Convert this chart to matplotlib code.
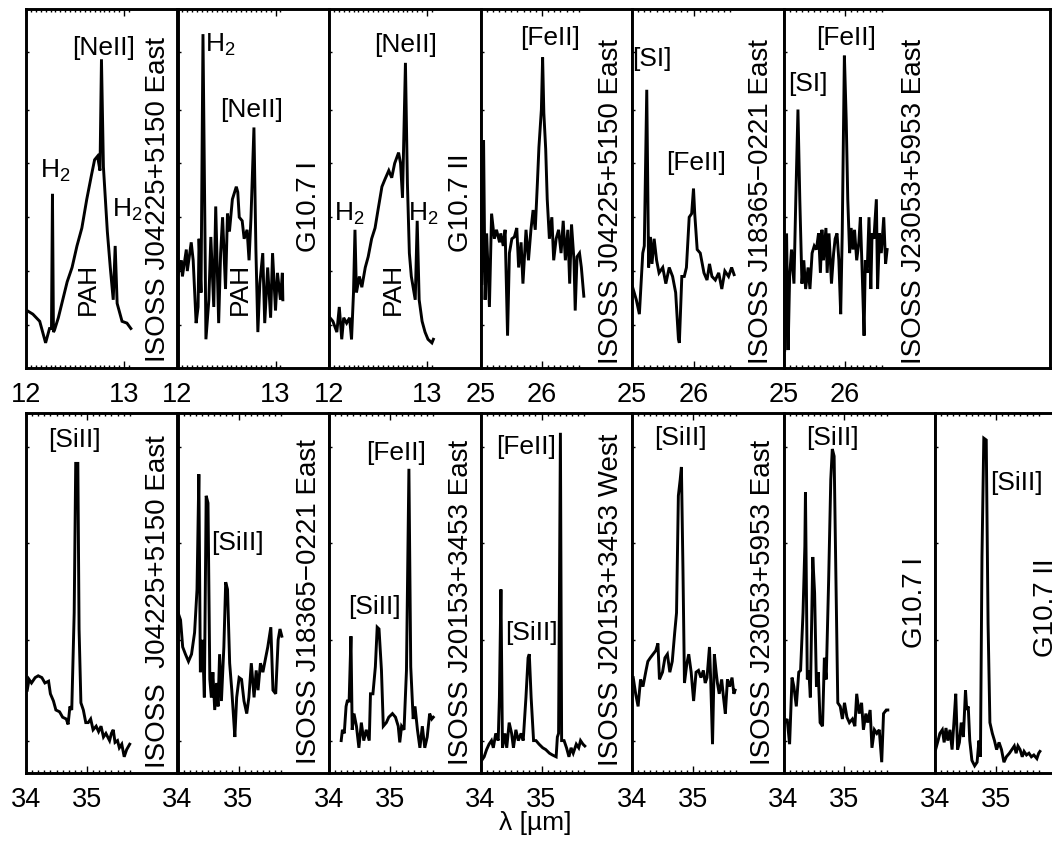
import matplotlib
matplotlib.use('Agg')
import matplotlib.pyplot as plt
import numpy as np

plt.rcParams['font.family'] = ['Liberation Sans', 'DejaVu Sans']
plt.rcParams['mathtext.default'] = 'regular'

# ---------------- data (relative flux) ----------------
t1_wave = [12.01, 12.07, 12.14, 12.20, 12.24, 12.26, 12.27, 12.28, 12.29, 12.33, 12.42, 12.47, 12.52,
           12.57, 12.62, 12.67, 12.70, 12.73, 12.755, 12.77, 12.79, 12.83, 12.86, 12.89, 12.91, 12.93,
           12.98, 13.03, 13.07]
t1_flux = [0.16, 0.15, 0.13, 0.07, 0.11, 0.11, 0.485, 0.10, 0.105, 0.14, 0.24, 0.28, 0.34,
           0.39, 0.47, 0.54, 0.58, 0.59, 0.55, 0.86, 0.56, 0.38, 0.28, 0.19, 0.34, 0.18,
           0.13, 0.125, 0.11]

t2_wave = [12.00, 12.04, 12.05, 12.09, 12.10, 12.14, 12.16, 12.19, 12.21, 12.22, 12.24, 12.26, 12.28,
           12.29, 12.32, 12.34, 12.37, 12.39, 12.42, 12.44, 12.46, 12.49, 12.51, 12.53, 12.56, 12.60,
           12.615, 12.63, 12.66, 12.68, 12.71, 12.73, 12.75, 12.78, 12.80, 12.82, 12.84, 12.87, 12.89,
           12.92, 12.95, 12.97, 13.00, 13.02, 13.05, 13.07, 13.075]
t2_flux = [0.255, 0.30, 0.255, 0.33, 0.27, 0.35, 0.30, 0.125, 0.17, 0.36, 0.21, 0.93, 0.38,
           0.08, 0.19, 0.365, 0.17, 0.45, 0.125, 0.32, 0.42, 0.22, 0.43, 0.38, 0.47, 0.505,
           0.49, 0.42, 0.41, 0.36, 0.385, 0.30, 0.42, 0.67, 0.33, 0.10, 0.235, 0.32, 0.125,
           0.28, 0.14, 0.32, 0.16, 0.265, 0.19, 0.265, 0.19]

t3_wave = [12.01, 12.04, 12.08, 12.105, 12.13, 12.15, 12.18, 12.21, 12.23, 12.25, 12.265, 12.28, 12.31,
           12.335, 12.37, 12.40, 12.435, 12.47, 12.50, 12.54, 12.57, 12.61, 12.64, 12.67, 12.71, 12.73,
           12.75, 12.78, 12.80, 12.82, 12.84, 12.88, 12.90, 12.92, 12.95, 12.98, 13.01, 13.05, 13.065]
t3_flux = [0.14, 0.13, 0.10, 0.17, 0.08, 0.14, 0.125, 0.14, 0.08, 0.21, 0.385, 0.21, 0.255,
           0.225, 0.28, 0.31, 0.36, 0.39, 0.44, 0.505, 0.525, 0.55, 0.53, 0.57, 0.60, 0.57,
           0.475, 0.85, 0.515, 0.32, 0.255, 0.19, 0.41, 0.19, 0.13, 0.10, 0.08, 0.07, 0.08]

t4_wave = [25.02, 25.05, 25.075, 25.10, 25.145, 25.18, 25.225, 25.26, 25.31, 25.33, 25.37, 25.40, 25.44,
           25.47, 25.51, 25.55, 25.59, 25.62, 25.66, 25.69, 25.74, 25.78, 25.82, 25.855, 25.89, 25.925,
           25.95, 25.99, 26.01, 26.03, 26.06, 26.085, 26.12, 26.16, 26.19, 26.23, 26.27, 26.31, 26.345,
           26.38, 26.42, 26.45, 26.48, 26.52, 26.54, 26.57, 26.61, 26.64, 26.68]
t4_flux = [0.235, 0.635, 0.19, 0.375, 0.17, 0.43, 0.36, 0.385, 0.35, 0.375, 0.34, 0.385, 0.09,
           0.32, 0.36, 0.365, 0.39, 0.28, 0.35, 0.235, 0.385, 0.30, 0.385, 0.44, 0.385, 0.515,
           0.615, 0.72, 0.865, 0.71, 0.61, 0.47, 0.36, 0.42, 0.30, 0.36, 0.385, 0.32, 0.41,
           0.30, 0.385, 0.235, 0.40, 0.30, 0.16, 0.31, 0.32, 0.28, 0.20]

t5_wave = [25.01, 25.07, 25.12, 25.175, 25.20, 25.24, 25.27, 25.30, 25.325, 25.36, 25.40, 25.44, 25.50,
           25.55, 25.605, 25.66, 25.71, 25.755, 25.77, 25.81, 25.85, 25.885, 25.93, 25.97, 26.00, 26.02,
           26.06, 26.11, 26.17, 26.22, 26.26, 26.30, 26.355, 26.41, 26.46, 26.51, 26.57, 26.62, 26.66]
t5_flux = [0.225, 0.19, 0.15, 0.32, 0.34, 0.775, 0.28, 0.365, 0.29, 0.36, 0.30, 0.265, 0.28,
           0.235, 0.28, 0.255, 0.21, 0.08, 0.07, 0.255, 0.255, 0.28, 0.42, 0.43, 0.50, 0.43,
           0.33, 0.32, 0.265, 0.245, 0.29, 0.255, 0.245, 0.265, 0.22, 0.27, 0.255, 0.28, 0.26]

t6_wave = [25.02, 25.05, 25.075, 25.10, 25.13, 25.17, 25.20, 25.235, 25.265, 25.30, 25.33, 25.36, 25.40,
           25.43, 25.465, 25.50, 25.535, 25.57, 25.60, 25.625, 25.65, 25.69, 25.71, 25.74, 25.78, 25.815,
           25.84, 25.87, 25.90, 25.93, 25.955, 25.99, 26.02, 26.045, 26.075, 26.10, 26.13, 26.155, 26.19,
           26.225, 26.25, 26.28, 26.31, 26.33, 26.36, 26.39, 26.42, 26.44, 26.47, 26.51, 26.53, 26.56,
           26.59, 26.63, 26.66, 26.685]
t6_flux = [0.05, 0.375, 0.05, 0.255, 0.33, 0.235, 0.47, 0.72, 0.47, 0.235, 0.30, 0.22, 0.28,
           0.22, 0.32, 0.34, 0.33, 0.375, 0.265, 0.385, 0.30, 0.39, 0.265, 0.375, 0.235, 0.32,
           0.36, 0.375, 0.30, 0.15, 0.375, 0.87, 0.69, 0.47, 0.32, 0.39, 0.33, 0.385, 0.30,
           0.35, 0.42, 0.265, 0.09, 0.30, 0.265, 0.42, 0.22, 0.375, 0.36, 0.47, 0.22, 0.375,
           0.32, 0.42, 0.29, 0.33]

b1_wave = [34.02, 34.05, 34.09, 34.15, 34.20, 34.26, 34.31, 34.37, 34.40, 34.45, 34.49, 34.55, 34.60,
           34.66, 34.69, 34.72, 34.75, 34.79, 34.815, 34.85, 34.87, 34.90, 34.94, 34.98, 35.02, 35.06,
           35.10, 35.15, 35.19, 35.23, 35.27, 35.31, 35.37, 35.40, 35.43, 35.46, 35.50, 35.53, 35.57,
           35.61, 35.65, 35.70]
b1_flux = [0.23, 0.26, 0.25, 0.265, 0.27, 0.265, 0.25, 0.255, 0.22, 0.20, 0.175, 0.17, 0.155,
           0.15, 0.135, 0.185, 0.175, 0.445, 0.86, 0.86, 0.40, 0.195, 0.175, 0.14, 0.14, 0.15,
           0.12, 0.13, 0.115, 0.13, 0.10, 0.11, 0.09, 0.11, 0.12, 0.085, 0.09, 0.07, 0.08,
           0.045, 0.065, 0.08]

b2_wave = [34.01, 34.05, 34.085, 34.13, 34.18, 34.23, 34.28, 34.32, 34.35, 34.375, 34.41, 34.44, 34.47,
           34.50, 34.53, 34.555, 34.58, 34.61, 34.64, 34.665, 34.69, 34.72, 34.76, 34.79, 34.82, 34.855,
           34.89, 34.915, 34.94, 34.97, 35.01, 35.05, 35.09, 35.135, 35.17, 35.21, 35.255, 35.29, 35.32,
           35.36, 35.40, 35.445, 35.48, 35.53, 35.565, 35.61, 35.65, 35.68, 35.71]
b2_flux = [0.445, 0.425, 0.35, 0.33, 0.31, 0.33, 0.39, 0.51, 0.83, 0.28, 0.37, 0.21, 0.77,
           0.75, 0.26, 0.21, 0.28, 0.175, 0.25, 0.185, 0.33, 0.20, 0.35, 0.53, 0.51, 0.305,
           0.23, 0.165, 0.10, 0.21, 0.265, 0.26, 0.20, 0.165, 0.21, 0.305, 0.21, 0.285, 0.23,
           0.305, 0.28, 0.32, 0.35, 0.405, 0.23, 0.22, 0.37, 0.40, 0.38]

b3_wave = [34.20, 34.22, 34.25, 34.28, 34.30, 34.33, 34.36, 34.38, 34.41, 34.45, 34.49, 34.53, 34.57,
           34.61, 34.66, 34.68, 34.72, 34.76, 34.79, 34.82, 34.86, 34.89, 34.94, 34.98, 35.04, 35.09,
           35.135, 35.16, 35.19, 35.23, 35.27, 35.31, 35.34, 35.38, 35.41, 35.45, 35.49, 35.53, 35.57,
           35.61, 35.65, 35.685, 35.71]
b3_flux = [0.09, 0.12, 0.11, 0.185, 0.20, 0.20, 0.38, 0.12, 0.165, 0.13, 0.07, 0.14, 0.09,
           0.12, 0.09, 0.22, 0.22, 0.295, 0.405, 0.40, 0.285, 0.13, 0.14, 0.155, 0.165, 0.155,
           0.13, 0.085, 0.13, 0.12, 0.285, 0.845, 0.295, 0.15, 0.185, 0.12, 0.07, 0.13, 0.07,
           0.10, 0.165, 0.15, 0.155]

b4_wave = [34.02, 34.06, 34.10, 34.14, 34.18, 34.21, 34.25, 34.29, 34.31, 34.335, 34.36, 34.40, 34.43,
           34.47, 34.51, 34.54, 34.58, 34.62, 34.665, 34.70, 34.745, 34.78, 34.80, 34.83, 34.87, 34.91,
           34.96, 35.02, 35.07, 35.13, 35.18, 35.24, 35.26, 35.28, 35.31, 35.33, 35.37, 35.41, 35.45,
           35.485, 35.52, 35.57, 35.61, 35.64, 35.68, 35.71]
b4_flux = [0.035, 0.045, 0.065, 0.08, 0.09, 0.07, 0.11, 0.09, 0.21, 0.51, 0.07, 0.11, 0.07,
           0.14, 0.11, 0.07, 0.12, 0.09, 0.11, 0.09, 0.21, 0.32, 0.33, 0.21, 0.09, 0.09,
           0.08, 0.07, 0.065, 0.055, 0.05, 0.045, 0.10, 0.11, 0.945, 0.09, 0.09, 0.07, 0.045,
           0.07, 0.055, 0.08, 0.07, 0.09, 0.08, 0.075]

b5_wave = [34.02, 34.06, 34.10, 34.14, 34.18, 34.23, 34.26, 34.30, 34.345, 34.39, 34.425, 34.45, 34.50,
           34.54, 34.58, 34.62, 34.66, 34.70, 34.73, 34.76, 34.79, 34.81, 34.835, 34.86, 34.90, 34.93,
           34.97, 35.01, 35.05, 35.09, 35.13, 35.17, 35.20, 35.23, 35.27, 35.29, 35.32, 35.35, 35.38,
           35.40, 35.43, 35.47, 35.50, 35.53, 35.565, 35.60, 35.64, 35.67, 35.69]
b5_flux = [0.265, 0.22, 0.185, 0.26, 0.24, 0.285, 0.31, 0.32, 0.33, 0.34, 0.36, 0.26, 0.28,
           0.32, 0.33, 0.28, 0.31, 0.39, 0.445, 0.77, 0.815, 0.85, 0.57, 0.25, 0.305, 0.33,
           0.28, 0.20, 0.28, 0.285, 0.265, 0.285, 0.25, 0.265, 0.35, 0.26, 0.08, 0.33, 0.28,
           0.25, 0.22, 0.26, 0.21, 0.165, 0.26, 0.24, 0.265, 0.22, 0.23]

b6_wave = [34.02, 34.06, 34.10, 34.14, 34.17, 34.21, 34.25, 34.28, 34.32, 34.35, 34.36, 34.39, 34.415,
           34.44, 34.48, 34.51, 34.54, 34.57, 34.60, 34.64, 34.67, 34.70, 34.74, 34.775, 34.80, 34.83,
           34.86, 34.89, 34.93, 34.965, 35.00, 35.04, 35.08, 35.13, 35.17, 35.20, 35.24, 35.28, 35.31,
           35.35, 35.38, 35.42, 35.45, 35.49, 35.53, 35.57, 35.61, 35.64, 35.685, 35.71]
b6_flux = [0.14, 0.15, 0.08, 0.265, 0.24, 0.185, 0.28, 0.285, 0.445, 0.63, 0.78, 0.26, 0.285,
           0.21, 0.60, 0.50, 0.24, 0.28, 0.14, 0.13, 0.32, 0.26, 0.535, 0.815, 0.90, 0.88,
           0.535, 0.195, 0.185, 0.15, 0.195, 0.155, 0.14, 0.15, 0.13, 0.22, 0.165, 0.195, 0.12,
           0.165, 0.14, 0.175, 0.07, 0.12, 0.11, 0.12, 0.03, 0.165, 0.175, 0.175]

b7_wave = [34.01, 34.05, 34.08, 34.12, 34.15, 34.18, 34.21, 34.245, 34.28, 34.31, 34.34, 34.37, 34.40,
           34.43, 34.465, 34.50, 34.52, 34.545, 34.57, 34.605, 34.65, 34.69, 34.72, 34.745, 34.77, 34.80,
           34.84, 34.87, 34.90, 34.94, 34.975, 35.01, 35.05, 35.09, 35.13, 35.17, 35.22, 35.26, 35.30,
           35.33, 35.36, 35.395, 35.43, 35.46, 35.50, 35.54, 35.58, 35.62, 35.67, 35.70, 35.72]
b7_flux = [0.065, 0.09, 0.11, 0.12, 0.085, 0.125, 0.09, 0.12, 0.065, 0.14, 0.22, 0.065, 0.085,
           0.14, 0.10, 0.23, 0.175, 0.185, 0.09, 0.035, 0.02, 0.03, 0.09, 0.045, 0.60, 0.93,
           0.925, 0.415, 0.14, 0.11, 0.09, 0.065, 0.085, 0.065, 0.03, 0.045, 0.055, 0.065, 0.075,
           0.055, 0.075, 0.065, 0.045, 0.06, 0.05, 0.055, 0.045, 0.05, 0.04, 0.055, 0.06]

top_names = ['ISOSS J04225+5150 East', 'G10.7 I', 'G10.7 II',
             'ISOSS J04225+5150 East', 'ISOSS J18365\u22120221 East', 'ISOSS J23053+5953 East']
bottom_names = ['ISOSS  J04225+5150 East', 'ISOSS J18365\u22120221 East', 'ISOSS J20153+3453 East',
                'ISOSS J20153+3453 West', 'ISOSS J23053+5953 East', 'G10.7 I', 'G10.7 II']
x_label = '\u03bb [\u00b5m]'

# ---------------- layout (pixels of a 1052 x 841 canvas) ----------------
W, H = 1052.0, 841.0
fig = plt.figure(figsize=(10.52, 8.41), dpi=100)
FS = 19
FS_NAME = 20
FS_TICK = 19.5
LW = 2.1
SPINE_LW = 2.1

# (left px, width px, x0, px per micron, minor step, x end of data/ticks)
top_layout = [
    (26.0, 151.5, 12.0, 98.0, 0.05, 13.07),
    (177.5, 151.5, 12.0, 98.0, 0.05, 13.07),
    (329.0, 151.5, 12.0, 98.0, 0.05, 13.07),
    (480.5, 151.5, 25.0, 61.5, 0.1, 26.68),
    (632.0, 151.5, 25.0, 61.5, 0.1, 26.68),
    (783.5, 266.5, 25.0, 61.5, 0.1, 26.68),
]
bottom_layout = [(26.0 + i * 151.5, 151.5, 34.0, 61.0, 0.1, 35.72) for i in range(7)]

top_data = [(t1_wave, t1_flux), (t2_wave, t2_flux), (t3_wave, t3_flux),
            (t4_wave, t4_flux), (t5_wave, t5_flux), (t6_wave, t6_flux)]
bottom_data = [(b1_wave, b1_flux), (b2_wave, b2_flux), (b3_wave, b3_flux), (b4_wave, b4_flux),
               (b5_wave, b5_flux), (b6_wave, b6_flux), (b7_wave, b7_flux)]

# annotations in data coords: (text, x, y, rotation)
top_notes = [
    [('H$_2$', 12.30, 0.55, 0), ('[NeII]', 12.79, 0.89, 0), ('H$_2$', 13.03, 0.44, 0), ('PAH', 12.63, 0.22, 90)],
    [('H$_2$', 12.44, 0.90, 0), ('[NeII]', 12.76, 0.72, 0), ('PAH', 12.64, 0.22, 90)],
    [('H$_2$', 12.21, 0.43, 0), ('[NeII]', 12.78, 0.90, 0), ('H$_2$', 12.96, 0.43, 0), ('PAH', 12.65, 0.22, 90)],
    [('[FeII]', 26.13, 0.92, 0)],
    [('[SI]', 25.33, 0.86, 0), ('[FeII]', 26.04, 0.57, 0)],
    [('[SI]', 25.40, 0.79, 0), ('[FeII]', 26.02, 0.92, 0)],
]
top_name_pos = [(13.35, 0.47), (13.34, 0.45), (13.35, 0.46), (27.12, 0.465), (27.10, 0.465), (27.12, 0.465)]

bottom_notes = [
    [('[SiII]', 34.80, 0.925, 0)],
    [('[SiII]', 34.99, 0.64, 0)],
    [('[SiII]', 34.75, 0.46, 0), ('[FeII]', 35.10, 0.89, 0)],
    [('[FeII]', 34.75, 0.905, 0), ('[SiII]', 34.83, 0.39, 0)],
    [('[SiII]', 34.80, 0.93, 0)],
    [('[SiII]', 34.81, 0.93, 0)],
    [('[SiII]', 35.34, 0.805, 0)],
]
bottom_name_pos = [(36.16, 0.475), (36.15, 0.475), (36.16, 0.475), (36.14, 0.48),
                   (36.14, 0.475), (36.15, 0.475), (35.82, 0.46)]

top_yticks = [0.12, 0.27, 0.42, 0.57, 0.72, 0.88]
bottom_yticks = [0.09, 0.37, 0.64, 0.905]


def make_panel(layout, top_px, bot_px, wave, flux, notes, name, name_pos, yticks):
    left, width, x0, ppu, mstep, xend = layout
    ax = fig.add_axes([left / W, 1 - bot_px / H, width / W, (bot_px - top_px) / H])
    ax.plot(wave, flux, color='black', lw=LW, solid_joinstyle='miter')
    ax.set_xlim(x0, x0 + width / ppu)
    ax.set_ylim(0, 1)
    majors = [v for v in np.arange(np.ceil(x0), xend + 1e-9, 1.0)]
    ax.set_xticks(majors)
    ax.set_xticklabels([str(int(v)) for v in majors])
    ax.set_xticks(np.arange(x0, xend + 1e-9, mstep), minor=True)
    ax.set_yticks(yticks)
    ax.set_yticklabels([])
    ax.tick_params(axis='x', which='both', direction='in', top=True, bottom=True,
                   labelsize=FS_TICK, pad=10, width=1.0)
    ax.tick_params(axis='x', which='major', length=5)
    ax.tick_params(axis='x', which='minor', length=2.5)
    ax.tick_params(axis='y', which='major', direction='in', left=True, right=False,
                   length=2.5, width=1.0)
    for s in ax.spines.values():
        s.set_linewidth(SPINE_LW)
    for txt, x, y, rot in notes:
        ax.text(x, y, txt, fontsize=FS, ha='center', va='center', rotation=rot)
    ax.text(name_pos[0], name_pos[1], name, fontsize=FS_NAME, ha='center', va='center',
            rotation=90, clip_on=False)
    return ax


for i in range(6):
    make_panel(top_layout[i], 9.0, 368.0, top_data[i][0], top_data[i][1],
               top_notes[i], top_names[i], top_name_pos[i], top_yticks)

for i in range(7):
    make_panel(bottom_layout[i], 413.0, 773.0, bottom_data[i][0], bottom_data[i][1],
               bottom_notes[i], bottom_names[i], bottom_name_pos[i], bottom_yticks)

fig.text(535 / W, 1 - 823 / H, x_label, fontsize=FS, ha='center', va='center')

fig.savefig('out.png', dpi=100)
